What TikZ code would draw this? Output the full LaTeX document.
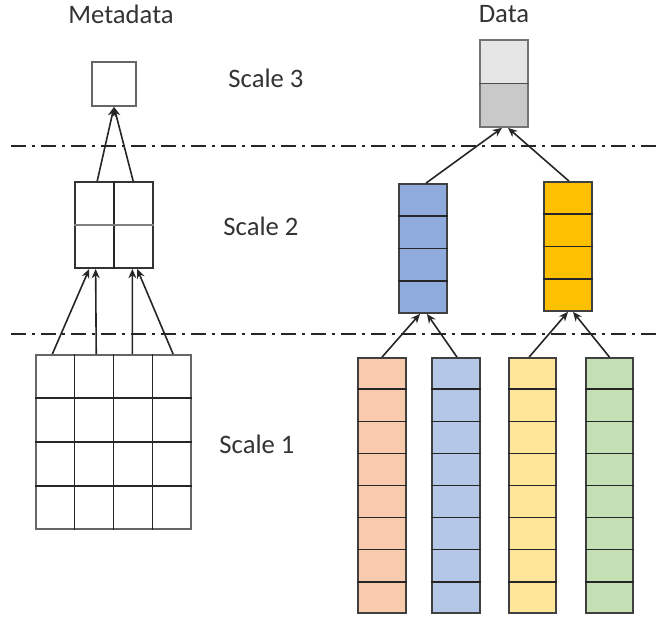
\documentclass[tikz,border=0pt]{standalone}
\usepackage{fontspec}
\setmainfont{Carlito}
\usetikzlibrary{calc,arrows.meta}
\definecolor{grayhi}{HTML}{E6E6E6}
\definecolor{graylo}{HTML}{C9C9C9}
\definecolor{bluedark}{HTML}{8FAADC}
\definecolor{goldbar}{HTML}{FFC000}
\definecolor{peach}{HTML}{F8CBAD}
\definecolor{bluelite}{HTML}{B4C7E7}
\definecolor{yellite}{HTML}{FFE699}
\definecolor{greenlite}{HTML}{C5E0B4}
\begin{document}
\begin{tikzpicture}[x=.75pt,y=-.75pt,
  lbl/.style={font=\fontsize{20}{23}\selectfont,text=black!80,inner sep=0pt},
  mbox/.style={draw=black!60,line width=1.4pt,inner sep=0pt},
  dbox/.style={draw=black!75,line width=1.3pt,inner sep=0pt,minimum width=36pt},
  cell/.style={draw=black!85,line width=1.1pt},
  arr/.style={-{Stealth[length=7pt,width=6pt]},line width=1.2pt,black!85},
  sep/.style={black!85,line width=1.2pt,dash pattern=on 11.25pt off 4.5pt on 2.25pt off 4.5pt}]
\useasboundingbox (0,0) rectangle (658,619);

\node[lbl] (tmeta) at (121,14) {Metadata};
\node[lbl] (tdata) at (504,14) {Data};
\node[lbl] (tsc3) at (266,78) {Scale 3};
\node[lbl] (tsc2) at (261,226) {Scale 2};
\node[lbl] (tsc1) at (257,444) {Scale 1};

\draw[sep] (11,146) -- (658,146);
\draw[sep] (11,334) -- (658,334);

\node[mbox,minimum width=33pt,minimum height=33pt] (m3) at (114,84) {};
\node[mbox,draw=black!80,minimum width=58.5pt,minimum height=64.5pt] (m2) at (114,225) {};
\node[mbox,minimum width=116.25pt,minimum height=130.5pt] (m1) at (113.5,442) {};
\draw[cell,line width=.9pt] (m2.north) -- (m2.south);
\draw[cell,black!50,line width=1.4pt] (m2.west) -- (m2.east);
\foreach \i in {1,2,3} {
  \draw[cell] ($(m1.north west)!\i/4!(m1.north east)$) -- ($(m1.south west)!\i/4!(m1.south east)$);
  \draw[cell] ($(m1.north west)!\i/4!(m1.south west)$) -- ($(m1.north east)!\i/4!(m1.south east)$);
}

\node[dbox,draw=black!55,fill=grayhi,minimum height=65.25pt,
  path picture={\fill[graylo] (path picture bounding box.west) rectangle (path picture bounding box.south east);}] (d3) at (504,83.5) {};
\draw[cell,black!70] (d3.west) -- (d3.east);
\node[dbox,fill=bluedark,minimum height=96.75pt] (d2a) at (423,248.5) {};
\node[dbox,fill=goldbar,minimum height=96.75pt] (d2b) at (568,246.5) {};
\node[dbox,fill=peach,minimum height=191.25pt] (d1a) at (382,485.5) {};
\node[dbox,fill=bluelite,minimum height=191.25pt] (d1b) at (456,485.5) {};
\node[dbox,fill=yellite,minimum height=191.25pt,minimum width=35.25pt] (d1c) at (532.5,485.5) {};
\node[dbox,fill=greenlite,minimum height=191.25pt,minimum width=35.25pt] (d1d) at (609.5,485.5) {};
\foreach \n/\k in {d2a/4,d2b/4,d1a/8,d1b/8,d1c/8,d1d/8} {
  \pgfmathtruncatemacro\last{\k-1}
  \foreach \i in {1,...,\last}
    \draw[cell] ($(\n.north west)!\i/\k!(\n.south west)$) -- ($(\n.north east)!\i/\k!(\n.south east)$);
}

\draw[arr] ($(m2.north west)!.29!(m2.north east)$) -- (m3.south);
\draw[arr] ($(m2.north west)!.74!(m2.north east)$) -- (m3.south);
\draw[arr] ($(m1.north west)!.11!(m1.north east)$) -- ($(m2.south west)!.19!(m2.south east)$);
\draw[arr] ($(m1.north west)!.39!(m1.north east)$) -- ($(m2.south west)!.27!(m2.south east)$);
\draw[arr] ($(m1.north west)!.62!(m1.north east)$) -- ($(m2.south west)!.73!(m2.south east)$);
\draw[arr] ($(m1.north west)!.88!(m1.north east)$) -- ($(m2.south west)!.79!(m2.south east)$);

\draw[arr] ($(d2a.north west)!.56!(d2a.north east)$) -- ($(d3.south west)!.46!(d3.south east)$);
\draw[arr] ($(d2b.north west)!.52!(d2b.north east)$) -- ($(d3.south west)!.58!(d3.south east)$);
\draw[arr] (d1a.north) -- ($(d2a.south west)!.44!(d2a.south east)$);
\draw[arr] ($(d1b.north west)!.52!(d1b.north east)$) -- ($(d2a.south west)!.58!(d2a.south east)$);
\draw[arr] ($(d1c.north west)!.43!(d1c.north east)$) -- ($(d2b.south west)!.5!(d2b.south east)$);
\draw[arr] (d1d.north) -- ($(d2b.south west)!.6!(d2b.south east)$);
\end{tikzpicture}
\end{document}
